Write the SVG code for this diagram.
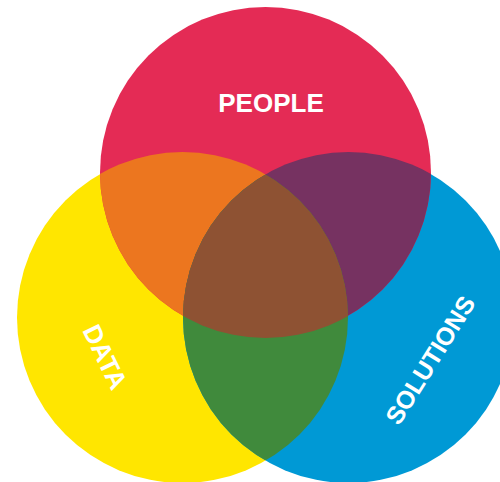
<svg xmlns="http://www.w3.org/2000/svg" width="500" height="482" viewBox="0 0 500 482">
<style>
.lbl{font-family:"Liberation Sans",Arial,sans-serif;font-weight:bold;fill:#ffffff;text-anchor:middle}
</style>
<defs>
<clipPath id="cRed"><circle cx="265.5" cy="172.5" r="165.5"/></clipPath>
<clipPath id="cYel"><circle cx="182.5" cy="317.5" r="165.5"/></clipPath>
<clipPath id="cBlu"><circle cx="348.5" cy="317.5" r="165.5"/></clipPath>
</defs>
<rect width="500" height="482" fill="#ffffff"/>
<g id="data">
<circle cx="182.5" cy="317.5" r="165.5" fill="#FFE600"/>
</g>
<g id="solutions">
<circle cx="348.5" cy="317.5" r="165.5" fill="#0099D5"/>
</g>
<g id="people">
<circle cx="265.5" cy="172.5" r="165.5" fill="#E42B55"/>
</g>
<g id="overlaps">
<g clip-path="url(#cRed)"><circle cx="182.5" cy="317.5" r="165.5" fill="#EC761F"/><circle cx="348.5" cy="317.5" r="165.5" fill="#763261"/></g>
<g clip-path="url(#cYel)"><circle cx="348.5" cy="317.5" r="165.5" fill="#408A3C"/></g>
<g clip-path="url(#cYel)"><g clip-path="url(#cRed)"><circle cx="348.5" cy="317.5" r="165.5" fill="#8E5233"/></g></g>
</g>
<g id="labels">
<text class="lbl" x="271" y="112" font-size="26">PEOPLE</text>
<text class="lbl" font-size="26" transform="translate(105,357) rotate(64)" y="9">DATA</text>
<text class="lbl" font-size="25" transform="translate(430,360) rotate(-58)" y="9">SOLUTIONS</text>
</g>
</svg>
